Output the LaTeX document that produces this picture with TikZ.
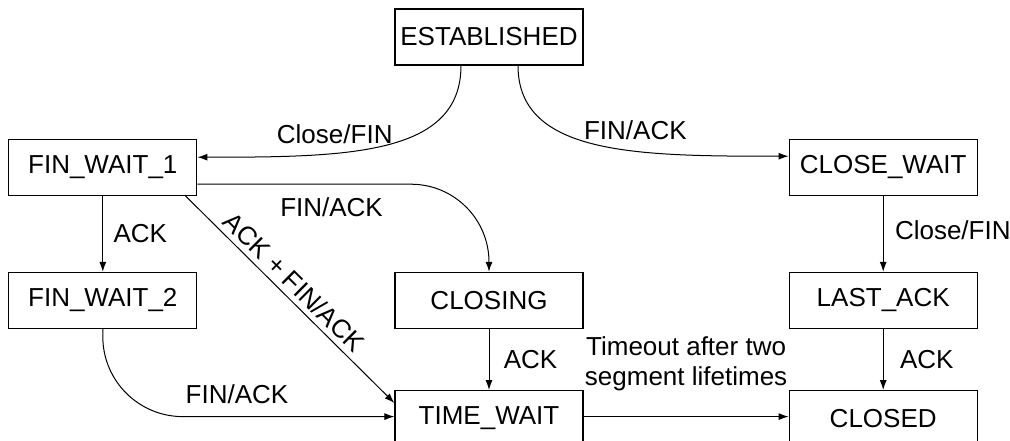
\documentclass[tikz,border=0pt]{standalone}
\usepackage{fontspec}
\setmainfont{Liberation Sans}
\usetikzlibrary{arrows.meta, positioning}
\tikzstyle{state} = [rectangle, minimum width=188pt, minimum height=56pt, text centered, draw=black, line width=1.2pt, inner sep=2pt]
\tikzstyle{arrow} = [line width=1pt, -{Latex[length=10pt,width=7pt]}]

\begin{document}
\begin{tikzpicture}[font=\fontsize{26}{30}\selectfont]
\useasboundingbox (0,0) rectangle (1010pt,-440pt);

% States
\node (est) [state] at (489pt,-37pt) {ESTABLISHED};
\node (fw1) [state, below left=73pt and 197pt of est] {FIN\_WAIT\_1};
\node (cw) [state, below right=73pt and 205pt of est] {CLOSE\_WAIT};
\node (fw2) [state, below=76pt of fw1] {FIN\_WAIT\_2};
\node (closing) [state, right=197pt of fw2] {CLOSING};
\node (lastack) [state, below=76pt of cw] {LAST\_ACK};
\node (tw) [state, below=61pt of closing] {TIME\_WAIT};
\node (closed) [state, below=61pt of lastack] {CLOSED};

% Leaving ESTABLISHED
\draw [arrow] ([xshift=-28pt]est.south) .. controls +(0,-90pt) and +(150pt,0) .. node[above, pos=0.66, yshift=6pt]{Close/FIN} ([yshift=10pt]fw1.east);
\draw [arrow] ([xshift=29pt]est.south) .. controls +(0,-90pt) and +(-150pt,0) .. node[above, pos=0.62, yshift=7pt]{FIN/ACK} ([yshift=11pt]cw.west);

% Active close
\draw [arrow] (fw1) -- node[right=7pt]{ACK} (fw2);
\draw [arrow] ([xshift=-12pt]fw1.south east) -- node[sloped, above, pos=0.47, yshift=2pt]{ACK + FIN/ACK} ([yshift=-13pt]tw.north west);
\draw [arrow, rounded corners=78pt] ([yshift=-17pt]fw1.east) -| node[below, pos=0.23, yshift=-10pt]{FIN/ACK} (closing.north);
\draw [arrow, rounded corners=80pt] (fw2.south) |- node[above, pos=0.73, yshift=9pt]{FIN/ACK} ([yshift=2pt]tw.west);
\draw [arrow] (closing) -- node[right=11pt]{ACK} (tw);
\draw [arrow] ([yshift=2pt]tw.east) -- node[above, yshift=22pt, align=center]{Timeout after two\\segment lifetimes} ([yshift=2pt]closed.west);

% Passive close
\draw [arrow] (cw) -- node[right=8pt, yshift=4pt]{Close/FIN} (lastack);
\draw [arrow] (lastack) -- node[right=13pt]{ACK} (closed);

\end{tikzpicture}
\end{document}
